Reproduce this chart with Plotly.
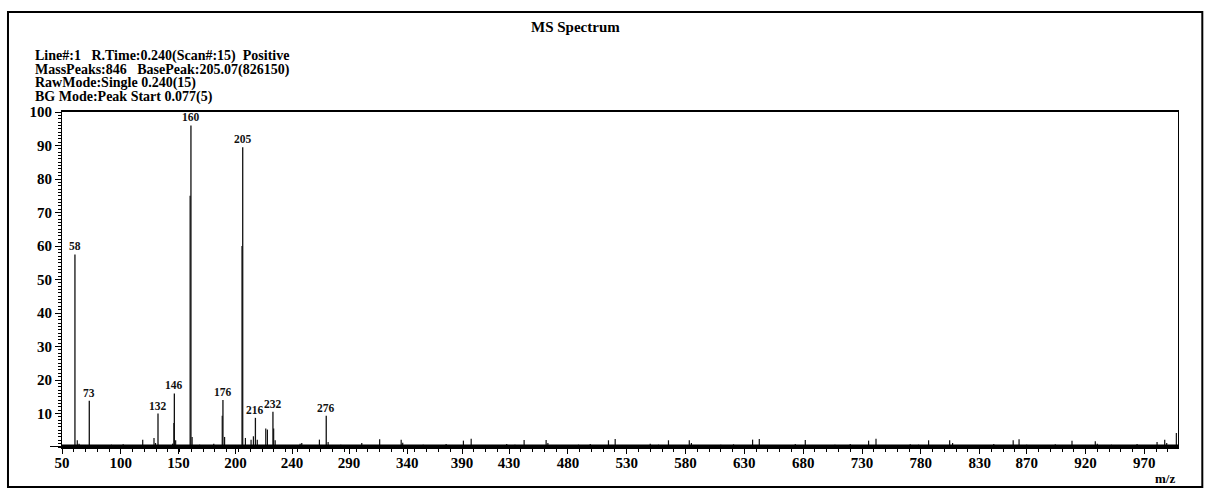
import plotly.graph_objects as go

# ---- labelled peaks (position, label text as printed) ----
peak_mz = [61.0, 73.2, 131.6, 145.5, 159.6, 186.8, 203.6, 214.4, 229.3, 274.6]
peak_int = [57.5, 13.8, 10.0, 16.0, 96.0, 14.0, 89.5, 8.7, 10.5, 9.3]
peak_labels = ["58", "73", "132", "146", "160", "176", "205", "216", "232", "276"]

# ---- smaller unlabelled peaks ----
minor_mz = [56, 63.0, 64.5, 102, 104, 118.6, 128.2, 129.5, 144.0, 145.1, 146.6, 158.9, 160.6,
            179, 186.2, 188.2, 203.0, 205.9, 210.7, 212.7, 216.0, 223.2, 224.6, 229.9, 231.2,
            252.4, 253.8, 268.8, 276.2, 304.8, 320.0, 338.3, 339.6, 376.5, 391.2, 397.8, 428,
            442.8, 461.5, 463, 499, 514.5, 520.2, 550, 565.5, 583.2, 585, 620.8, 637, 642.7,
            673.3, 681.8, 720, 735.6, 741.9, 771, 786.6, 804.5, 807, 842, 858.5, 863.5, 894.3,
            908.5, 928.3, 930, 963.8, 980.8, 987.3, 989, 997.2]
minor_int = [0.6, 2.0, 1.0, 0.8, 0.5, 2.2, 2.7, 1.2, 1.0, 7.2, 2.0, 75.0, 3.0,
             1.0, 9.3, 3.0, 60.0, 2.7, 2.2, 3.2, 2.2, 5.5, 5.2, 5.5, 2.0,
             1.0, 1.2, 2.2, 1.5, 1.2, 2.3, 2.2, 1.3, 0.9, 1.9, 2.5, 0.9,
             2.1, 2.1, 1.2, 0.9, 2.0, 2.4, 1.0, 2.0, 2.0, 1.2, 0.8, 2.2, 2.4,
             0.9, 2.1, 0.9, 1.9, 2.5, 0.8, 2.0, 2.0, 1.2, 0.9, 2.0, 2.3, 0.8,
             1.9, 1.7, 1.0, 0.9, 1.5, 2.2, 1.2, 4.2]

# ---- baseline noise spikes ----
noise_mz = [53, 67, 79, 85, 92, 98, 110, 114, 123, 137, 151, 167, 172, 194, 198, 221, 237, 243,
            258, 263, 281, 287, 293, 298, 310, 315, 326, 331, 345, 351, 357, 363, 369, 382, 386,
            404, 410, 416, 422, 435, 449, 455, 470, 476, 482, 489, 494, 506, 526, 532, 538, 544,
            557, 571, 577, 591, 597, 604, 610, 615, 627, 650, 656, 662, 667, 688, 694, 700, 707,
            713, 727, 749, 755, 761, 778, 793, 798, 814, 820, 826, 833, 848, 852, 870, 876, 882,
            888, 900, 915, 921, 936, 942, 948, 955, 970, 975, 993]
noise_int = [0.5, 0.4, 0.6, 0.3, 0.7, 0.4, 0.5, 0.3, 0.6, 0.5, 0.4, 0.7, 0.4, 0.5, 0.6, 0.4, 0.5, 0.3,
             0.6, 0.4, 0.5, 0.7, 0.3, 0.5, 0.6, 0.4, 0.5, 0.3, 0.6, 0.4, 0.7, 0.5, 0.3, 0.6, 0.4,
             0.5, 0.3, 0.6, 0.4, 0.7, 0.5, 0.4, 0.6, 0.3, 0.5, 0.7, 0.4, 0.5, 0.6, 0.3, 0.5, 0.4,
             0.7, 0.5, 0.3, 0.6, 0.4, 0.5, 0.7, 0.3, 0.5, 0.6, 0.4, 0.5, 0.3, 0.6, 0.5, 0.4, 0.7,
             0.3, 0.5, 0.6, 0.4, 0.5, 0.7, 0.3, 0.5, 0.6, 0.4, 0.5, 0.3, 0.6, 0.4, 0.7, 0.5, 0.3,
             0.6, 0.4, 0.5, 0.3, 0.6, 0.7, 0.4, 0.5, 0.6, 0.3, 0.5]

# ---- axis ticks ----
x_tick_vals = [50, 100, 149, 197.5, 245.5, 294, 343.5, 390, 430, 480, 530, 580, 630, 680, 730,
               780, 830, 870, 920, 970]
x_tick_text = ["50", "100", "150", "200", "240", "290", "340", "390", "430", "480", "530", "580",
               "630", "680", "730", "780", "830", "870", "920", "970"]
y_tick_vals = [10, 20, 30, 40, 50, 60, 70, 80, 90, 100]

header_lines = [
    "Line#:1   R.Time:0.240(Scan#:15)  Positive",
    "MassPeaks:846   BasePeak:205.07(826150)",
    "RawMode:Single 0.240(15)",
    "BG Mode:Peak Start 0.077(5)",
]

X_RANGE = [50, 998.6]
SERIF = "Liberation Serif, Times New Roman, serif"


def sticks(xs, ys):
    sx, sy = [], []
    for x, y in zip(xs, ys):
        sx += [x, x, None]
        sy += [0, y, None]
    return sx, sy


fig = go.Figure()
nx, ny = sticks(noise_mz, noise_int)
fig.add_trace(go.Scatter(x=nx, y=ny, mode="lines", line=dict(color="#111", width=1),
                         hoverinfo="skip", showlegend=False))
mx, my = sticks(minor_mz, minor_int)
fig.add_trace(go.Scatter(x=mx, y=my, mode="lines", line=dict(color="#111", width=1.2),
                         hoverinfo="skip", showlegend=False))
px_, py_ = sticks(peak_mz, peak_int)
fig.add_trace(go.Scatter(x=px_, y=py_, mode="lines", line=dict(color="#111", width=1.3),
                         showlegend=False))
# thick baseline
fig.add_trace(go.Scatter(x=X_RANGE, y=[0.4, 0.4], mode="lines",
                         line=dict(color="#000", width=2.5), hoverinfo="skip", showlegend=False))

annotations = []
for x, y, t in zip(peak_mz, peak_int, peak_labels):
    annotations.append(dict(x=x, y=y, text=t, showarrow=False, xanchor="center",
                            yanchor="bottom", yshift=0,
                            font=dict(family=SERIF, size=11.5, color="#111", weight="bold")))

# plot area: x 62..1177.7 px, y 112..447 px
PW, PH, L, T = 1115.7, 335.0, 62.0, 112.0


def paper_x(px):
    return (px - L) / PW


def paper_y(py):
    return (T + PH - py) / PH


annotations.append(dict(xref="paper", yref="paper", x=paper_x(575), y=paper_y(27),
                        text="MS Spectrum", showarrow=False, xanchor="center", yanchor="middle",
                        font=dict(family=SERIF, size=15, color="#000", weight="bold")))
for i, line in enumerate(header_lines):
    annotations.append(dict(xref="paper", yref="paper", x=paper_x(33), y=paper_y(56 + 13.6 * i),
                            text=line, showarrow=False, xanchor="left", yanchor="middle",
                            font=dict(family=SERIF, size=14, color="#000", weight="bold")))
annotations.append(dict(xref="paper", yref="paper", x=paper_x(1165), y=paper_y(478),
                        text="m/z", showarrow=False, xanchor="center", yanchor="middle",
                        font=dict(family=SERIF, size=13, color="#000", weight="bold")))

shapes = [
    # outer frame
    dict(type="rect", xref="paper", yref="paper", x0=paper_x(8), x1=paper_x(1202),
         y0=paper_y(487), y1=paper_y(12), line=dict(color="#000", width=2)),
    # baseline stub to the left of y axis
    dict(type="line", xref="paper", yref="y", x0=paper_x(50), x1=0, y0=0, y1=0,
         line=dict(color="#000", width=2)),
]

fig.update_layout(
    width=1205, height=489,
    margin=dict(l=62, r=27, t=112, b=42),
    paper_bgcolor="white", plot_bgcolor="white",
    showlegend=False,
    annotations=annotations,
    shapes=shapes,
    xaxis=dict(range=X_RANGE, tickvals=x_tick_vals, ticktext=x_tick_text,
               ticks="outside", ticklen=5, tickwidth=1, tickcolor="#000",
               ticklabelstandoff=-4,
               showline=True, linecolor="#000", linewidth=1.5, mirror=True,
               showgrid=False, zeroline=False,
               minor=dict(dtick=10, tick0=0, ticks="outside", ticklen=3, tickcolor="#000",
                          showgrid=False),
               tickfont=dict(family=SERIF, size=15, color="#000", weight="bold")),
    yaxis=dict(range=[0, 100], tickvals=y_tick_vals,
               ticks="outside", ticklen=6, tickwidth=1, tickcolor="#000",
               showline=True, linecolor="#000", linewidth=1, mirror=True,
               showgrid=False, zeroline=False,
               minor=dict(dtick=1, tick0=0, ticks="outside", ticklen=3, tickcolor="#000",
                          showgrid=False),
               tickfont=dict(family=SERIF, size=15, color="#000", weight="bold")),
)

fig.write_html(
    "out.html",
    config={"displayModeBar": False},
    post_script="document.body.style.margin='0';document.body.style.overflow='hidden';",
)
